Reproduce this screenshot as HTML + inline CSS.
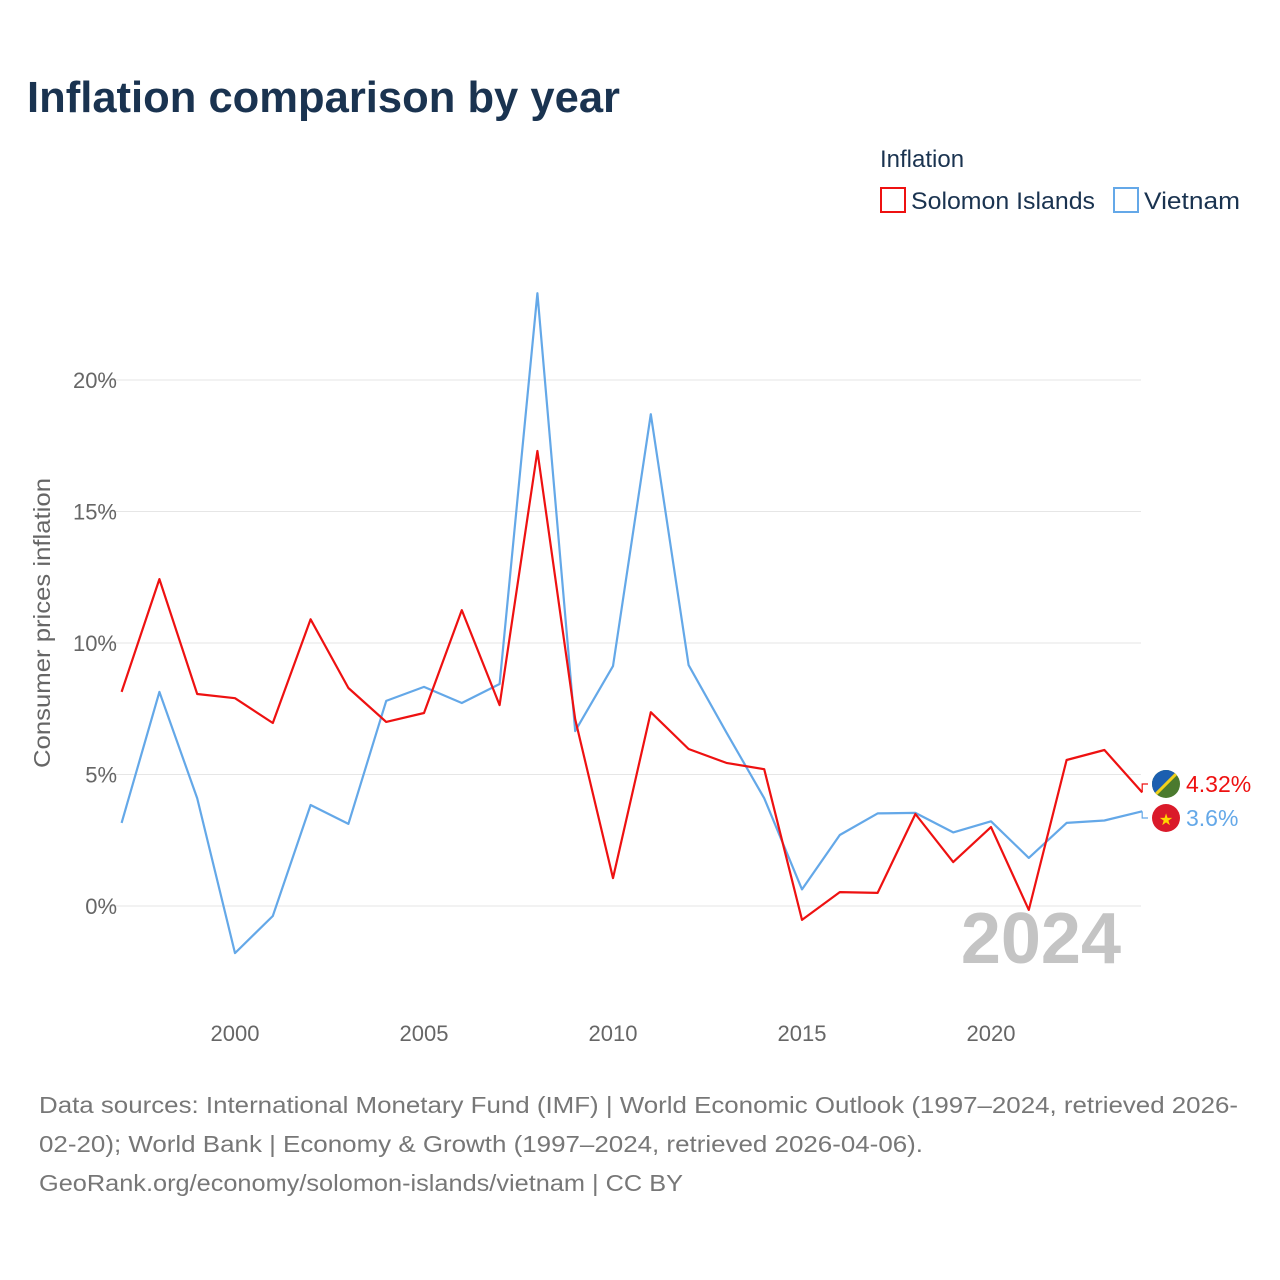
<!DOCTYPE html>
<html><head><meta charset="utf-8"><style>
body{margin:0;background:#fff;font-family:"Liberation Sans",sans-serif;}
#wrap{position:relative;width:1280px;height:1280px;overflow:hidden;}
</style></head><body>
<div id="wrap">
<svg id="chart" width="1280" height="1280"></svg>
</div>
<script>
const years=[1997,1998,1999,2000,2001,2002,2003,2004,2005,2006,2007,2008,2009,2010,2011,2012,2013,2014,2015,2016,2017,2018,2019,2020,2021,2022,2023,2024];
const solomon=[8.14,12.43,8.06,7.9,6.96,10.9,8.29,7.0,7.34,11.25,7.64,17.3,7.1,1.06,7.37,5.97,5.44,5.2,-0.53,0.53,0.5,3.5,1.67,3.0,-0.15,5.55,5.93,4.32];
const vietnam=[3.16,8.14,4.1,-1.79,-0.38,3.84,3.12,7.8,8.33,7.72,8.44,23.3,6.65,9.12,18.7,9.16,6.6,4.1,0.63,2.7,3.52,3.54,2.8,3.22,1.83,3.16,3.25,3.6];
const yTicks=[0,5,10,15,20];
const xTicks=[2000,2005,2010,2015,2020];
const NS='http://www.w3.org/2000/svg';
const svg=document.getElementById('chart');
const xs=y=>121.6+(y-1997)*37.8;
const ys=v=>906-v*26.3;
function el(t,a,txt){const e=document.createElementNS(NS,t);for(const k in a)e.setAttribute(k,a[k]);if(txt!==undefined)e.textContent=txt;svg.appendChild(e);return e;}
let e;
e=el('text',{x:27,y:112,'font-size':44,'font-weight':'bold',fill:'#1a3350',textLength:593,lengthAdjust:'spacingAndGlyphs'},'Inflation comparison by year');


yTicks.forEach(t=>{
 e=el('line',{x1:100,x2:1141,y1:ys(t),y2:ys(t),stroke:'#e6e6e6','stroke-width':1});
 
 
 e=el('text',{x:117,y:ys(t)+8,'text-anchor':'end','font-size':22,fill:'#666'},t+'%');
 
 
});
xTicks.forEach(t=>{
 e=el('text',{x:xs(t),y:1041,'text-anchor':'middle','font-size':22,fill:'#666'},String(t));
 
 
});
e=el('text',{x:0,y:0,transform:'translate(50,623) rotate(-90)','text-anchor':'middle','font-size':23,fill:'#666',textLength:290,lengthAdjust:'spacingAndGlyphs'},'Consumer prices inflation');


e=el('text',{x:1121,y:963,'text-anchor':'end','font-size':72,'font-weight':'bold',fill:'#c4c4c4'},'2024');


function line(arr,color,name){
 const d=arr.map((v,i)=>(i?'L':'M')+xs(years[i]).toFixed(1)+','+ys(v).toFixed(1)).join('');
 const p=el('path',{d:d,fill:'none',stroke:color,'stroke-width':2.2,'stroke-linejoin':'round'});
 
 
}
line(vietnam,'#64a8e8','vietnam-line');
line(solomon,'#ee1111','solomon-islands-line');
const lx=xs(2024);
e=el('path',{d:`M${lx},${ys(solomon[27])} L${lx},784 L1148,784`,fill:'none',stroke:'#ee1111','stroke-width':1.2});


e=el('path',{d:`M${lx},${ys(vietnam[27])} L${lx},818 L1148,818`,fill:'none',stroke:'#64a8e8','stroke-width':1.2});


const defs=el('defs',{});
defs.innerHTML='<clipPath id="c1"><circle cx="1166" cy="784" r="14"/></clipPath>';
e=el('g',{'clip-path':'url(#c1)'});
e.innerHTML='<rect x="1150" y="768" width="32" height="32" fill="#4b7a2e"/><polygon points="1150,768 1182,768 1150,800" fill="#1c5fb0"/><line x1="1150" y1="800" x2="1182" y2="768" stroke="#f2d21c" stroke-width="3"/>';


e=el('circle',{cx:1166,cy:818,r:14,fill:'#da1a2a'});


e=el('text',{x:1166,y:825,'text-anchor':'middle','font-size':16,fill:'#ffd700'},'★');


e=el('text',{x:1186,y:792,'font-size':23,fill:'#ee1111'},solomon[27]+'%');


e=el('text',{x:1186,y:826,'font-size':23,fill:'#64a8e8'},vietnam[27]+'%');


e=el('text',{x:880,y:167,'font-size':24,fill:'#1a3350'},'Inflation');


e=el('rect',{x:881,y:188,width:24,height:24,fill:'none',stroke:'#ee1111','stroke-width':2});


e=el('text',{x:911,y:209,'font-size':24,fill:'#1a3350',textLength:184,lengthAdjust:'spacingAndGlyphs'},'Solomon Islands');


e=el('rect',{x:1114,y:188,width:24,height:24,fill:'none',stroke:'#64a8e8','stroke-width':2});


e=el('text',{x:1144,y:209,'font-size':24,fill:'#1a3350',textLength:96,lengthAdjust:'spacingAndGlyphs'},'Vietnam');


const footLens=[1199,884,644];
['Data sources: International Monetary Fund (IMF) | World Economic Outlook (1997–2024, retrieved 2026-','02-20); World Bank | Economy & Growth (1997–2024, retrieved 2026-04-06).','GeoRank.org/economy/solomon-islands/vietnam | CC BY'].forEach((t,i)=>{
 e=el('text',{x:39,y:1113+i*39,'font-size':23.5,fill:'#777',textLength:footLens[i],lengthAdjust:'spacingAndGlyphs'},t);
 
 
});
</script>
</body></html>
